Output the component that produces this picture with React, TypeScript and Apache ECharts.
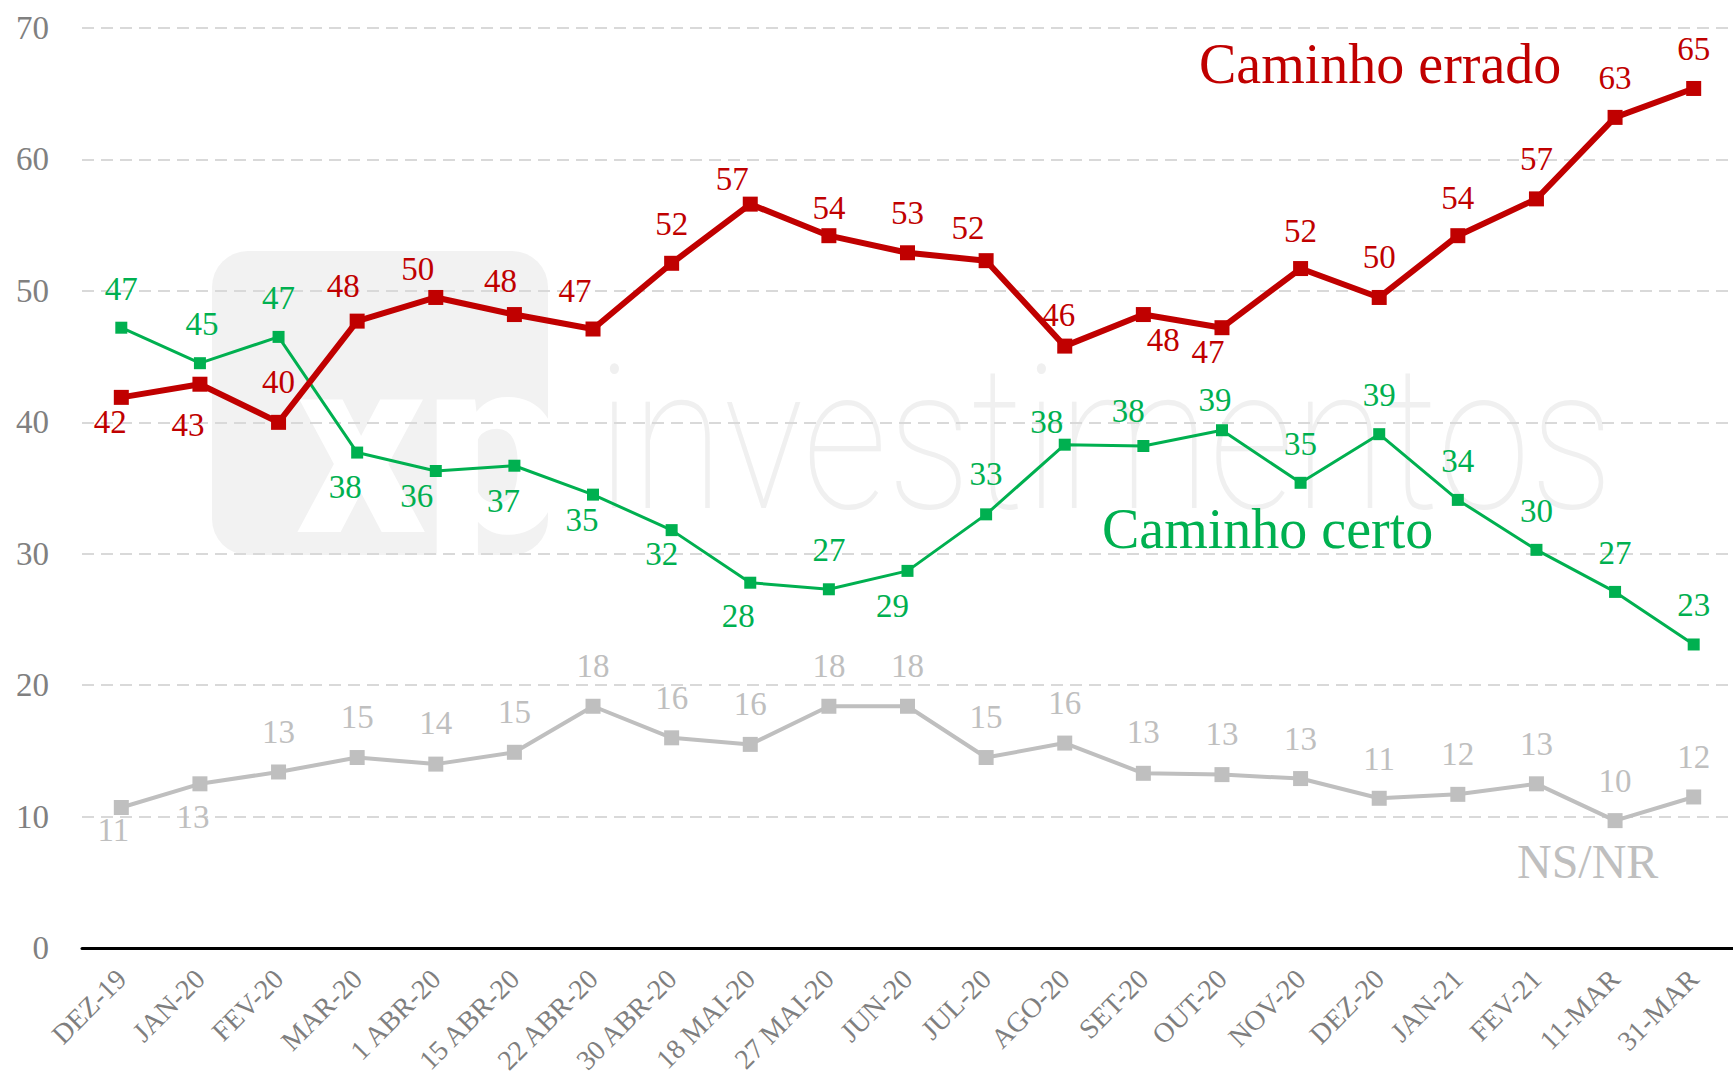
import React, { useEffect, useRef } from "react";
import * as echarts from "echarts";

const categories = [
  "DEZ-19", "JAN-20", "FEV-20", "MAR-20", "1 ABR-20", "15 ABR-20", "22 ABR-20",
  "30 ABR-20", "18 MAI-20", "27 MAI-20", "JUN-20", "JUL-20", "AGO-20", "SET-20",
  "OUT-20", "NOV-20", "DEZ-20", "JAN-21", "FEV-21", "11-MAR", "31-MAR",
];

const caminhoErrado = [41.9, 42.9, 40.0, 47.7, 49.5, 48.2, 47.1, 52.1, 56.6, 54.2, 52.9, 52.3, 45.8, 48.2, 47.2, 51.7, 49.5, 54.2, 57.0, 63.2, 65.4];
const caminhoCerto = [47.2, 44.5, 46.5, 37.7, 36.3, 36.7, 34.5, 31.8, 27.8, 27.3, 28.7, 33.0, 38.3, 38.2, 39.4, 35.4, 39.1, 34.1, 30.3, 27.1, 23.1];
const nsNr = [10.7, 12.5, 13.4, 14.5, 14.0, 14.9, 18.4, 16.0, 15.5, 18.4, 18.4, 14.5, 15.6, 13.3, 13.2, 12.9, 11.4, 11.7, 12.5, 9.7, 11.5];

const yTicks = { min: 0, max: 70, interval: 10 };

// label offsets (layout only), [dx, dy] from marker centre
const erradoLabelOffsets = [
  [-11, 25], [-12, 41], [0, -40], [-14, -35], [-18, -28], [-14, -34], [-18, -38], [0, -39], [-18, -25], [0, -28], [0, -40],
  [-18, -33], [-6, -31], [20, 25], [-14, 24], [0, -38], [0, -40], [0, -38], [0, -40], [0, -39], [0, -39],
];
const certoLabelOffsets = [
  [0, -39], [2, -39], [0, -39], [-12, 34], [-19, 25], [-11, 35], [-11, 25], [-10, 24], [-12, 33], [0, -39], [-15, 35],
  [0, -40], [-18, -23], [-15, -35], [-7, -30], [0, -39], [0, -39], [0, -39], [0, -39], [0, -39], [0, -39],
];
const nsLabelOffsets = [
  [-8, 23], [-7, 33], [0, -40], [0, -41], [0, -41], [0, -40], [0, -40], [0, -40], [0, -40], [0, -40], [0, -40],
  [0, -41], [0, -40], [0, -41], [0, -41], [0, -40], [0, -39], [0, -40], [0, -40], [0, -40], [0, -40],
];

const RED = "#c00000";
const GREEN = "#00b050";
const GRAY = "#bfbfbf";
const FONT = "'Liberation Serif', 'DejaVu Serif', serif";

function buildData(values: number[], offsets: number[][]) {
  return values.map((v, i) => ({ value: v, label: { offset: offsets[i] } }));
}

export default function App() {
  const ref = useRef<HTMLDivElement>(null);
  useEffect(() => {
    if (!ref.current) return;
    const chart = echarts.init(ref.current, null, { renderer: "svg" });
    const labelBase = {
      show: true,
      position: "inside",
      fontSize: 33,
      fontFamily: FONT,
      formatter: (p: any) => String(Math.round(p.value)),
    };
    chart.setOption({
      animation: false,
      backgroundColor: "#ffffff",
      grid: { left: 82, right: 0, top: 28, bottom: 129, containLabel: false },
      xAxis: {
        type: "category",
        data: categories,
        boundaryGap: true,
        axisTick: { show: false },
        axisLine: { show: true, lineStyle: { color: "#000000", width: 3 } },
        axisLabel: {
          interval: 0,
          rotate: 45,
          color: "#7f7f7f",
          fontSize: 28,
          fontFamily: FONT,
          margin: 26,
        },
        splitLine: { show: false },
      },
      yAxis: {
        type: "value",
        min: yTicks.min,
        max: yTicks.max,
        interval: yTicks.interval,
        axisLine: { show: false },
        axisTick: { show: false },
        axisLabel: { color: "#808080", fontSize: 33, fontFamily: FONT, margin: 33 },
        splitLine: { show: true, lineStyle: { color: "#d9d9d9", width: 2, type: [12, 7] } },
      },
      graphic: [
        {
          type: "rect",
          z: -10,
          silent: true,
          shape: { x: 212, y: 251, width: 336, height: 304, r: 36 },
          style: { fill: "#f2f2f2" },
        },
        {
          type: "text",
          z: -9,
          silent: true,
          style: {
            text: "xp",
            x: 296,
            y: 446,
            fill: "#ffffff",
            font: "900 250px Roboto, 'Noto Sans', sans-serif",
            textAlign: "left",
            textVerticalAlign: "middle",
          },
        },
        {
          type: "text",
          z: -9,
          silent: true,
          x: 597,
          y: 440,
          scaleX: 0.84,
          scaleY: 1,
          style: {
            text: "investimentos",
            x: 0,
            y: 0,
            fill: "#f0f0f0",
            font: "100 200px Roboto, 'Noto Sans', sans-serif",
            textAlign: "left",
            textVerticalAlign: "middle",
          },
        },
        {
          type: "text",
          z: 100,
          silent: true,
          style: {
            text: "Caminho errado",
            x: 1199,
            y: 64,
            fill: RED,
            font: `56px ${FONT}`,
            textAlign: "left",
            textVerticalAlign: "middle",
          },
        },
        {
          type: "text",
          z: 100,
          silent: true,
          style: {
            text: "Caminho certo",
            x: 1102,
            y: 529,
            fill: GREEN,
            font: `56px ${FONT}`,
            textAlign: "left",
            textVerticalAlign: "middle",
          },
        },
        {
          type: "text",
          z: 100,
          silent: true,
          style: {
            text: "NS/NR",
            x: 1517,
            y: 861,
            fill: GRAY,
            font: `48px ${FONT}`,
            textAlign: "left",
            textVerticalAlign: "middle",
          },
        },
      ],
      series: [
        {
          name: "NS/NR",
          type: "line",
          data: buildData(nsNr, nsLabelOffsets),
          symbol: "rect",
          symbolSize: 15,
          lineStyle: { color: GRAY, width: 4 },
          itemStyle: { color: GRAY },
          label: { ...labelBase, color: GRAY },
          z: 2,
        },
        {
          name: "Caminho certo",
          type: "line",
          data: buildData(caminhoCerto, certoLabelOffsets),
          symbol: "rect",
          symbolSize: 12,
          lineStyle: { color: GREEN, width: 3 },
          itemStyle: { color: GREEN },
          label: { ...labelBase, color: GREEN },
          z: 3,
        },
        {
          name: "Caminho errado",
          type: "line",
          data: buildData(caminhoErrado, erradoLabelOffsets),
          symbol: "rect",
          symbolSize: 15,
          lineStyle: { color: RED, width: 6 },
          itemStyle: { color: RED },
          label: { ...labelBase, color: RED },
          z: 4,
        },
      ],
    });
    return () => chart.dispose();
  }, []);
  return (
    <div
      ref={ref}
      style={{ position: "fixed", left: 0, top: 0, width: 1733, height: 1078, background: "#fff" }}
    />
  );
}
